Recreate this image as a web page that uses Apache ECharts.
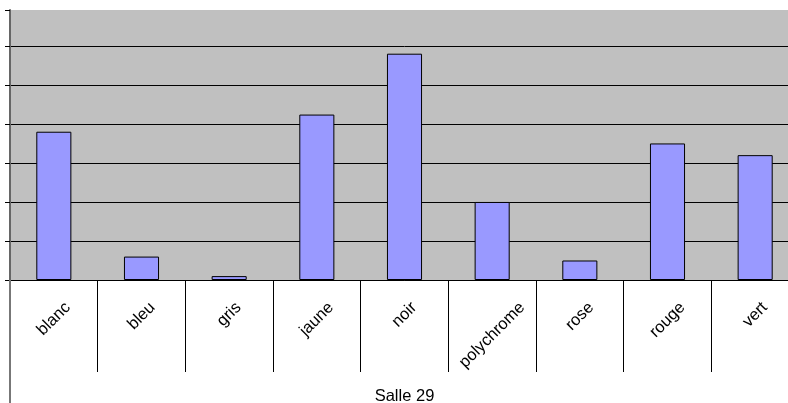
<!DOCTYPE html>
<html>
<head>
<meta charset="utf-8">
<script src="https://cdn.jsdelivr.net/npm/echarts@6/dist/echarts.min.js"></script>
<style>html,body{margin:0;padding:0;background:#fff;overflow:hidden;width:788px;height:403px}#c{width:799px;height:403px}</style>
</head>
<body>
<div id="c"></div>
<script>
const categories = ['blanc', 'bleu', 'gris', 'jaune', 'noir', 'polychrome', 'rose', 'rouge', 'vert'];
const values = [38, 6, 1, 42.4, 58, 20, 5, 35, 32];
const groupLabel = ['Salle 29'];
const yTicks = [0, 10, 20, 30, 40, 50, 60];

const FONT = 'Liberation Sans, Arial, sans-serif';
const LABEL_SIZE = 16.5;
const ctx = document.createElement('canvas').getContext('2d');
ctx.font = LABEL_SIZE + 'px ' + FONT;
const rich = {};
categories.forEach(function (c, i) {
  const p = ctx.measureText(c).width / 2;
  rich['p' + i] = { fontSize: LABEL_SIZE, fontFamily: FONT, color: '#000', padding: [p, p, 0, 0] };
});

const chart = echarts.init(document.getElementById('c'), null, { renderer: 'canvas' });
chart.setOption({
  animation: false,
  backgroundColor: '#ffffff',
  grid: {
    left: 10, top: 10, right: 0, bottom: 123,
    outerBoundsMode: 'none', containLabel: false,
    show: true, backgroundColor: '#C0C0C0', borderWidth: 0
  },
  xAxis: [{
    type: 'category',
    position: 'bottom',
    data: categories,
    axisLine: { show: true, lineStyle: { color: '#000', width: 1 } },
    axisTick: { show: true, interval: 0, length: 92, lineStyle: { color: '#000', width: 1 } },
    axisLabel: {
      interval: 0, rotate: 45, align: 'center', verticalAlign: 'middle',
      margin: 25, fontSize: LABEL_SIZE, fontFamily: FONT, color: '#000',
      formatter: function (v, i) { return '{p' + i + '|' + v + '}'; },
      rich: rich
    },
    splitLine: { show: false }
  }, {
    type: 'category',
    position: 'bottom',
    data: groupLabel,
    axisLine: { show: false },
    axisTick: { show: true, interval: 0, length: 123, lineStyle: { color: '#777', width: 2 } },
    axisLabel: { interval: 0, margin: 108, fontSize: 16.5, fontFamily: FONT, color: '#000' },
    splitLine: { show: false }
  }],
  yAxis: {
    type: 'value',
    min: yTicks[0],
    max: 69.2,
    interval: yTicks[1] - yTicks[0],
    axisLine: { show: true, lineStyle: { color: '#666', width: 2 } },
    axisTick: { show: true, length: 5, lineStyle: { color: '#000', width: 1 } },
    axisLabel: { show: false },
    splitLine: {
      show: true,
      lineStyle: { color: ['#000', '#000', '#000', '#000', '#000', '#000', '#000', 'rgba(0,0,0,0)'], width: 1 }
    }
  },
  series: [{
    type: 'bar',
    xAxisIndex: 0,
    data: values,
    barWidth: '40%',
    itemStyle: { color: '#9999FF', borderColor: '#000', borderWidth: 1 }
  }]
});
</script>
</body>
</html>
